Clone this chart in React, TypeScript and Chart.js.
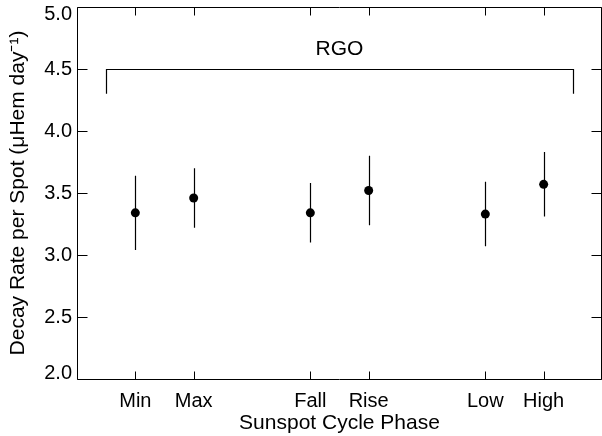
import React, { useEffect, useRef } from 'react';
import { Chart, registerables } from 'chart.js';

Chart.register(...registerables);

// ---- data ----
const phases = ['Min', 'Max', 'Fall', 'Rise', 'Low', 'High'];
const phasePositions = [1, 2, 4, 5, 7, 8];
const decayRates = [3.34, 3.46, 3.34, 3.52, 3.33, 3.57];
const errUpper = [3.64, 3.70, 3.58, 3.80, 3.59, 3.83];
const errLower = [3.04, 3.22, 3.10, 3.24, 3.07, 3.31];
const yTickValues = [2.0, 2.5, 3.0, 3.5, 4.0, 4.5, 5.0];
const bracketSpan = [0.5, 8.5];
const bracketLevel = 4.5;
const bracketEnd = 4.3;
const bracketLabel = 'RGO';
const bracketLabelLevel = 4.66;

const FONT = "'Liberation Sans', Arial, Helvetica, sans-serif";

const px = (v: number) => Math.round(v) + 0.5;

const decorPlugin = {
  id: 'decor',
  beforeDatasetsDraw(chart: any) {
    const { ctx, scales } = chart;
    const x = scales.x;
    const y = scales.y;
    ctx.save();
    ctx.strokeStyle = '#000';
    ctx.lineWidth = 1.2;
    ctx.beginPath();
    for (let i = 0; i < phasePositions.length; i++) {
      const xp = px(x.getPixelForValue(phasePositions[i]));
      ctx.moveTo(xp, y.getPixelForValue(errLower[i]));
      ctx.lineTo(xp, y.getPixelForValue(errUpper[i]));
    }
    ctx.stroke();
    ctx.restore();
  },
  afterDraw(chart: any) {
    const { ctx, chartArea: a, scales } = chart;
    const x = scales.x;
    const y = scales.y;
    ctx.save();
    ctx.strokeStyle = '#000';
    ctx.lineWidth = 1;
    const L = px(a.left), R = px(a.right - 1), T = px(a.top), B = px(a.bottom);
    ctx.beginPath();
    ctx.rect(L, T, R - L, B - T);
    const xl = 8;
    for (const v of phasePositions) {
      const xp = px(x.getPixelForValue(v));
      ctx.moveTo(xp, B); ctx.lineTo(xp, B - xl);
      ctx.moveTo(xp, T); ctx.lineTo(xp, T + xl);
    }
    const yl = 10;
    for (const v of yTickValues) {
      const yp = px(y.getPixelForValue(v));
      ctx.moveTo(L, yp); ctx.lineTo(L + yl, yp);
      ctx.moveTo(R, yp); ctx.lineTo(R - yl, yp);
    }
    ctx.stroke();

    // end tick labels kept inside the axis range
    ctx.fillStyle = '#000';
    ctx.font = `20px ${FONT}`;
    ctx.textAlign = 'right';
    ctx.textBaseline = 'alphabetic';
    const first = yTickValues[0];
    const last = yTickValues[yTickValues.length - 1];
    ctx.fillText(first.toFixed(1), a.left - 5, y.getPixelForValue(first));
    ctx.fillText(last.toFixed(1), a.left - 5, y.getPixelForValue(last) + 13);

    // RGO bracket
    ctx.lineWidth = 1.2;
    const bx0 = px(x.getPixelForValue(bracketSpan[0]));
    const bx1 = px(x.getPixelForValue(bracketSpan[1]));
    const by = px(y.getPixelForValue(bracketLevel));
    const byEnd = y.getPixelForValue(bracketEnd);
    ctx.beginPath();
    ctx.moveTo(bx0, byEnd);
    ctx.lineTo(bx0, by);
    ctx.lineTo(bx1, by);
    ctx.lineTo(bx1, byEnd);
    ctx.stroke();

    ctx.font = `21px ${FONT}`;
    ctx.textAlign = 'center';
    ctx.textBaseline = 'middle';
    ctx.fillText(
      bracketLabel,
      x.getPixelForValue((bracketSpan[0] + bracketSpan[1]) / 2),
      y.getPixelForValue(bracketLabelLevel)
    );
    ctx.restore();
  },
};

export default function App() {
  const ref = useRef<HTMLCanvasElement | null>(null);

  useEffect(() => {
    document.body.style.margin = '0';
    const canvas = ref.current;
    if (!canvas) return;
    Chart.defaults.font.family = FONT;
    Chart.defaults.color = '#000';

    const chart = new Chart(canvas, {
      type: 'scatter',
      data: {
        datasets: [
          {
            data: phasePositions.map((p, i) => ({ x: p, y: decayRates[i] })),
            backgroundColor: '#000',
            borderColor: '#000',
            borderWidth: 0,
            pointRadius: 4.5,
          },
        ],
      },
      options: {
        animation: false,
        responsive: false,
        devicePixelRatio: 1,
        layout: { autoPadding: false, padding: { top: 7, left: 0, right: 0, bottom: 0 } },
        plugins: {
          legend: { display: false },
          tooltip: { enabled: false },
        },
        scales: {
          x: {
            type: 'linear',
            min: 0,
            max: 9,
            grid: { display: false, drawTicks: false },
            border: { display: false },
            afterBuildTicks: (scale: any) => {
              scale.ticks = phasePositions.map((v) => ({ value: v }));
            },
            afterFit: (scale: any) => {
              scale.height = 57;
              scale.paddingLeft = 0;
              scale.paddingRight = 0;
            },
            ticks: {
              autoSkip: false,
              maxRotation: 0,
              minRotation: 0,
              padding: 10,
              font: { size: 20 },
              callback: (v: any) => {
                const i = phasePositions.indexOf(Number(v));
                return i >= 0 ? phases[i] : '';
              },
            },
            title: {
              display: true,
              text: 'Sunspot Cycle Phase',
              font: { size: 21 },
              padding: { top: 0, bottom: 0 },
            },
          },
          y: {
            type: 'linear',
            min: 2,
            max: 5,
            grid: { display: false, drawTicks: false },
            border: { display: false },
            afterBuildTicks: (scale: any) => {
              scale.ticks = yTickValues.map((v) => ({ value: v }));
            },
            afterFit: (scale: any) => {
              scale.width = 77;
              scale.paddingTop = 0;
              scale.paddingBottom = 0;
            },
            ticks: {
              padding: 5,
              font: { size: 20 },
              callback: (v: any) => {
                const n = Number(v);
                if (n === yTickValues[0] || n === yTickValues[yTickValues.length - 1]) return '';
                return n.toFixed(1);
              },
            },
            title: {
              display: true,
              text: 'Decay Rate per Spot (\u03bcHem day\u207b\u00b9)',
              font: { size: 21 },
              padding: { top: 6, bottom: 0 },
            },
          },
        },
      },
      plugins: [decorPlugin],
    } as any);

    return () => chart.destroy();
  }, []);

  return <canvas ref={ref} width={602} height={436} style={{ display: 'block' }} />;
}
